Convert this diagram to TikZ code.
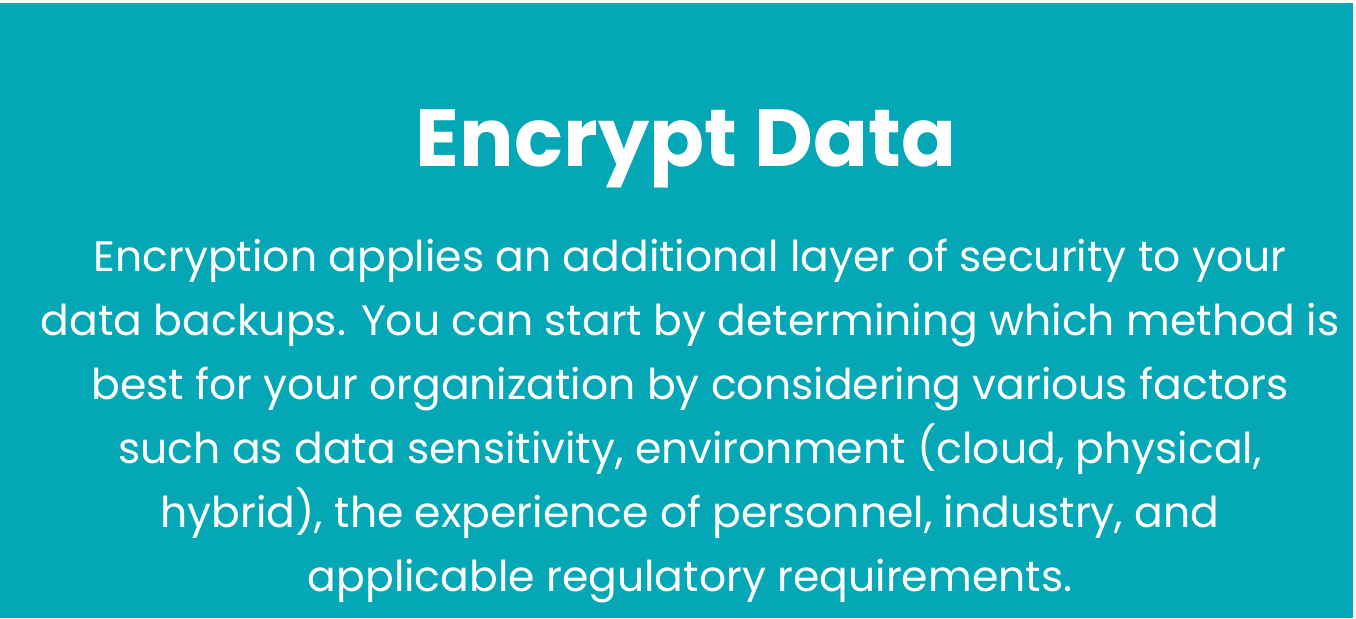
\documentclass[tikz,border=0pt]{standalone}
\usepackage{fontspec}
\setmainfont{Poppins}
\definecolor{teal}{HTML}{04A7B5}
\begin{document}
\begin{tikzpicture}[x=1pt,y=-1pt,
  title/.style={text=white,font=\fontsize{81}{100}\selectfont\bfseries,inner sep=0pt,anchor=base},
  body/.style={text=white,font=\fontsize{42.5}{64}\selectfont,inner sep=0pt,align=center,anchor=north}]
\useasboundingbox (0,0) rectangle (1356,618);
\fill[white] (0,0) rectangle (1356,618);
\fill[teal] (0,3) rectangle (1353,618);
\node[title] (t) at (686,166) {Encrypt Data};
\node[body] (b) at (690,239) {Encryption applies an additional layer of security to your\\
data backups. You can start by determining which method is\\
best for your organization by considering various factors\\
such as data sensitivity, environment (cloud, physical,\\
hybrid), the experience of personnel, industry, and\\
applicable regulatory requirements.};
\end{tikzpicture}
\end{document}
